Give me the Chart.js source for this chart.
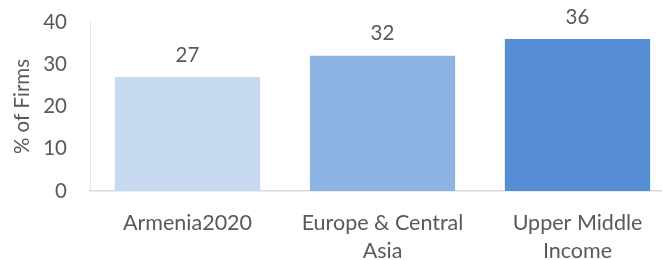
<!DOCTYPE html>
<html>
<head>
<meta charset="utf-8">
<script src="https://cdn.jsdelivr.net/npm/chart.js@4"></script>
<style>
  html, body { margin: 0; padding: 0; background: #fff; overflow: hidden; }
  #wrap { position: relative; width: 690px; height: 260px; }
</style>
</head>
<body>
<div id="wrap"><canvas id="firmsChart"></canvas></div>
<script>
const categories = [["Armenia2020"], ["Europe & Central", "Asia"], ["Upper Middle", "Income"]];
const firmShares = [27, 32, 36];
const barColors = ["#C6D9F1", "#8EB4E3", "#558ED5"];
const yTicks = [0, 10, 20, 30, 40];

const textColor = "#595959";
const fontFamily = "Lato, 'Open Sans', sans-serif";
const fontSize = 20.5;

// labels above each bar
const valueLabels = {
    id: "valueLabels",
    afterDatasetsDraw(chart) {
        const ctx = chart.ctx;
        const meta = chart.getDatasetMeta(0);
        ctx.save();
        ctx.fillStyle = textColor;
        ctx.font = fontSize + "px " + fontFamily;
        ctx.textAlign = "center";
        ctx.textBaseline = "middle";
        meta.data.forEach((bar, i) => {
            ctx.fillText(String(firmShares[i]), bar.x, bar.y - 22);
        });
        ctx.restore();
    }
};

const ctx = document.getElementById("firmsChart");
const chart = new Chart(ctx, {
    type: "bar",
    data: {
        labels: categories,
        datasets: [{
            label: "% of Firms",
            data: firmShares,
            backgroundColor: barColors,
            categoryPercentage: 1,
            barPercentage: 0.745
        }]
    },
    options: {
        responsive: true,
        maintainAspectRatio: false,
        animation: false,
        layout: { padding: { top: 22, right: 15, bottom: 0, left: 0 } },
        plugins: {
            legend: { display: false },
            tooltip: { enabled: false }
        },
        scales: {
            x: {
                grid: { display: false, drawTicks: false },
                border: { display: true, color: "#D9D9D9", width: 1.5 },
                ticks: {
                    color: textColor,
                    font: { family: fontFamily, size: 21.5, lineHeight: 1.26 },
                    padding: 19,
                    maxRotation: 0,
                    autoSkip: false
                },
                afterFit: s => { s.height = 69; }
            },
            y: {
                min: 0,
                max: 40,
                afterBuildTicks: s => { s.ticks = yTicks.map(v => ({ value: v })); },
                grid: { display: false, drawTicks: false },
                border: { display: true, color: "#DAE3F3", width: 1 },
                ticks: {
                    color: textColor,
                    font: { family: fontFamily, size: fontSize },
                    padding: 23
                },
                title: {
                    display: true,
                    text: "% of Firms",
                    color: textColor,
                    font: { family: fontFamily, size: fontSize },
                    padding: { top: 10, bottom: 0 }
                },
                afterFit: s => {
                    s.width = 90;
                    s.paddingTop = 0;
                    s.paddingBottom = 0;
                }
            }
        }
    },
    plugins: [valueLabels]
});
</script>
</body>
</html>
